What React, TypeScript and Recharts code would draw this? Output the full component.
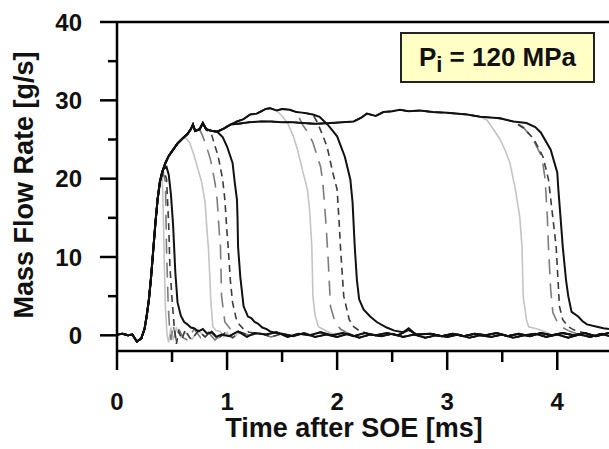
import React from 'react';
import { LineChart, Line, XAxis, YAxis, ReferenceLine } from 'recharts';

type Pt = [number, number];

// time [ms], mass flow rate [g/s]
const rise: Pt[] = [
  [0, 0.1], [0.05, 0.2], [0.1, 0.0], [0.14, 0.1], [0.18, -0.8], [0.22, -0.4],
  [0.25, 0.8], [0.27, 2.5], [0.29, 4.6], [0.31, 7.5], [0.33, 11], [0.35, 14.5],
  [0.37, 17.5], [0.39, 19.6],
];
const ramp: Pt[] = [
  [0.41, 20.8], [0.44, 22], [0.47, 22.9], [0.51, 23.7], [0.55, 24.5], [0.6, 25.2],
  [0.64, 25.7], [0.67, 26.3], [0.69, 26.9], [0.71, 26.1], [0.75, 26.3], [0.78, 27.1],
  [0.81, 26.3], [0.86, 26.1], [0.91, 26.0], [0.97, 26.4],
];
const plateauC: Pt[] = [
  [1.03, 26.9], [1.09, 27.3], [1.15, 27.6], [1.21, 28.2], [1.27, 28.3], [1.31, 28.6],
  [1.35, 28.9], [1.39, 29.0], [1.45, 28.7], [1.5, 28.9], [1.57, 28.8], [1.63, 28.5],
  [1.7, 28.4], [1.78, 28.2], [1.84, 27.9], [1.87, 27.5],
];
const plateauD: Pt[] = [
  [1.03, 26.9], [1.1, 27.0], [1.2, 27.2], [1.3, 27.3], [1.4, 27.3], [1.5, 27.2],
  [1.6, 27.2], [1.69, 27.1], [1.8, 27.0], [1.94, 27.1], [2.05, 27.2], [2.15, 27.3],
  [2.22, 27.8], [2.27, 28.3], [2.35, 28.0], [2.42, 28.5], [2.5, 28.6], [2.57, 28.8],
  [2.65, 28.6], [2.75, 28.7], [2.87, 28.5], [3.0, 28.4], [3.18, 28.2], [3.3, 27.9],
  [3.48, 27.7], [3.6, 27.3], [3.72, 27.1],
];
const floorA: Pt[] = [
  [0.62, 0.4], [0.68, -0.5], [0.74, 0.6], [0.8, -0.2], [0.86, 0.5], [0.92, -0.4],
  [0.98, 0.3], [1.05, -0.3], [1.12, 0.4], [1.2, 0.0], [1.3, 0.3], [1.4, -0.2],
  [1.5, 0.2], [1.6, -0.1], [1.7, 0.3], [1.8, -0.2], [1.9, 0.1], [2.0, -0.2],
  [2.1, 0.2], [2.2, -0.3], [2.3, 0.1], [2.4, -0.1], [2.5, 0.2], [2.6, -0.2],
  [2.7, 0.1], [2.8, -0.3], [2.9, 0.0], [3.0, -0.2], [3.1, 0.1], [3.2, -0.3],
  [3.3, 0.0], [3.4, -0.2], [3.5, 0.1], [3.6, -0.3], [3.7, 0.0], [3.8, 0.2],
  [3.9, -0.2], [4.0, 0.1], [4.1, -0.3], [4.2, 0.1], [4.3, -0.2], [4.4, 0.2], [4.47, -0.1],
];
const floorB: Pt[] = [
  [0.64, -0.6], [0.7, 0.8], [0.76, -0.3], [0.83, 0.4], [0.89, -0.6], [0.95, 0.2],
  [1.02, -0.1], [1.1, 0.5], [1.18, -0.2], [1.25, 0.3], [1.35, 0.1], [1.45, 0.4],
  [1.55, -0.2], [1.65, 0.2], [1.75, 0.0], [1.85, 0.4], [1.95, 0.0], [2.05, 0.3],
  [2.15, -0.1], [2.25, 0.3], [2.35, 0.0], [2.45, 0.3], [2.55, 0.0], [2.65, 0.7],
  [2.72, 0.1], [2.85, 0.2], [2.95, -0.1], [3.05, 0.2], [3.15, -0.1], [3.25, 0.2],
  [3.35, 0.0], [3.45, 0.3], [3.55, -0.1], [3.65, 0.2], [3.75, -0.1], [3.85, 0.3],
  [3.95, 0.0], [4.05, 0.3], [4.15, 0.0], [4.25, 0.3], [4.35, -0.1], [4.47, 0.3],
];

// closing flanks, one per shot
const fallA1: Pt[] = [[0.41, 20.6], [0.42, 16], [0.43, 9], [0.44, 3.5], [0.455, 0], [0.47, -0.9], [0.49, 1.0], [0.51, -0.6], [0.54, 0.9], [0.58, -0.2]];
const fallA2: Pt[] = [[0.42, 20.8], [0.44, 19.5], [0.45, 11], [0.465, 4], [0.475, 1.5], [0.49, -0.6], [0.51, 1.4], [0.54, -0.8], [0.57, 0.6], [0.6, -0.3]];
const fallA3: Pt[] = [[0.42, 21], [0.45, 20], [0.47, 14], [0.48, 9], [0.5, 4.6], [0.52, 1.1], [0.54, -1.1], [0.56, 0.5], [0.59, -0.5], [0.62, 0.7], [0.66, -0.3]];
const fallA4: Pt[] = [[0.42, 21.2], [0.45, 21.5], [0.47, 20.5], [0.49, 18], [0.51, 14], [0.53, 8], [0.55, 4.2], [0.58, 2.5], [0.61, 1.7], [0.64, 1.4], [0.67, 1.0], [0.7, 0.9], [0.74, 0.5], [0.78, 0.8], [0.82, 0.2], [0.86, 0.4], [0.9, -0.2], [0.95, 0.1]];

const fallB1: Pt[] = [[0.63, 25.1], [0.66, 24.6], [0.7, 23], [0.73, 21.5], [0.77, 19.5], [0.8, 17], [0.82, 13], [0.83, 11.3], [0.845, 7], [0.85, 5], [0.87, 1.1], [0.9, 0.6], [0.94, 0.5], [0.97, -0.2], [1.0, 0.4]];
const fallB2: Pt[] = [[0.78, 25.4], [0.82, 23.8], [0.85, 22.4], [0.89, 19.5], [0.91, 17.3], [0.93, 13], [0.94, 11.3], [0.95, 5], [0.98, 1.7], [1.03, 0.8], [1.07, 0.3]];
const fallB3: Pt[] = [[0.86, 25.6], [0.89, 24.2], [0.92, 22.8], [0.96, 19.9], [0.98, 17.3], [1.0, 13], [1.01, 11.3], [1.03, 7], [1.05, 4.2], [1.09, 1.7], [1.15, 0.8], [1.2, 0.4]];
const fallB4: Pt[] = [[0.96, 25.3], [1.0, 24.1], [1.05, 22], [1.07, 19.5], [1.09, 17.3], [1.095, 15], [1.1, 11.3], [1.12, 7.5], [1.15, 3.7], [1.19, 2.4], [1.22, 2.2], [1.25, 1.7], [1.28, 1.5], [1.32, 1.0], [1.36, 0.8], [1.39, 0.5], [1.45, 0.3]];

const fallC1: Pt[] = [[1.5, 28.0], [1.55, 27.1], [1.6, 25.5], [1.64, 23.7], [1.69, 20.8], [1.73, 18.6], [1.75, 16], [1.77, 11.3], [1.78, 5], [1.8, 2.5], [1.83, 1.1], [1.91, 0.5], [1.96, 0.2]];
const fallC2: Pt[] = [[1.69, 26.8], [1.74, 25.8], [1.78, 24.6], [1.85, 21.5], [1.87, 19.5], [1.9, 14], [1.92, 9.3], [1.94, 3.7], [1.98, 1.7], [2.03, 0.8], [2.08, 0.4]];
const fallC3: Pt[] = [[1.82, 27.2], [1.87, 25.5], [1.91, 24], [1.96, 20.8], [2.0, 18.6], [2.02, 14], [2.03, 11.3], [2.06, 5], [2.11, 2.0], [2.15, 1.1], [2.2, 0.6]];
const fallC4: Pt[] = [[1.92, 26.8], [2.0, 25.4], [2.07, 22.8], [2.12, 19.9], [2.14, 17], [2.16, 11.3], [2.18, 7], [2.2, 4.6], [2.24, 3.3], [2.3, 2.4], [2.36, 1.7], [2.45, 1.0], [2.52, 0.6], [2.6, 0.4], [2.65, 0.9], [2.7, 0.3]];

const fallD1: Pt[] = [[3.36, 27.5], [3.42, 26.3], [3.48, 25], [3.53, 23.5], [3.57, 22], [3.62, 18.6], [3.66, 15], [3.68, 11.3], [3.69, 5], [3.72, 2], [3.74, 1.1], [3.82, 0.8], [3.9, 0.4]];
const fallD2: Pt[] = [[3.69, 26.6], [3.78, 25], [3.86, 22.8], [3.89, 19.9], [3.91, 15], [3.92, 11.3], [3.94, 5.9], [3.96, 2.9], [4.0, 1.7], [4.05, 1.0], [4.1, 0.6]];
const fallD3: Pt[] = [[3.7, 26.4], [3.79, 25.0], [3.87, 22.8], [3.92, 19.9], [3.96, 15], [3.99, 11.3], [4.02, 3.7], [4.05, 2.0], [4.1, 1.1], [4.15, 0.7]];
const fallD4: Pt[] = [[3.8, 26.6], [3.85, 25.9], [3.94, 23.7], [4.0, 20.8], [4.01, 18.6], [4.03, 15], [4.05, 11.3], [4.08, 7], [4.1, 5], [4.13, 3.0], [4.19, 2.4], [4.23, 1.8], [4.27, 1.4], [4.36, 1.1], [4.42, 0.9], [4.47, 0.8]];

const xTicks = [0, 0.5, 1, 1.5, 2, 2.5, 3, 3.5, 4];
const yTicks = [0, 5, 10, 15, 20, 25, 30, 35, 40];

const headB = [...rise, ...ramp];
const headC = [...rise, ...ramp, ...plateauC];
const headD = [...rise, ...ramp, ...plateauD];

const build = (head: Pt[], cut: number, fall: Pt[], floor: Pt[]) => {
  const end = fall[fall.length - 1][0];
  return [...head.filter((p) => p[0] <= cut), ...fall, ...floor.filter((p) => p[0] > end)].map(
    ([t, m]) => ({ t, m })
  );
};

const styles = {
  light: { stroke: '#c4c4c4', strokeWidth: 1.6 },
  gray: { stroke: '#7c7c7c', strokeWidth: 1.6, strokeDasharray: '15 9' },
  dark: { stroke: '#3c3c3c', strokeWidth: 1.6, strokeDasharray: '7 5' },
  black: { stroke: '#111', strokeWidth: 2 },
};

const series = [
  { key: 'a1', s: styles.light, data: build(rise, 0.39, fallA1, floorA) },
  { key: 'b1', s: styles.light, data: build(headB, 0.6, fallB1, floorB) },
  { key: 'c1', s: styles.light, data: build(headC, 1.45, fallC1, floorA) },
  { key: 'd1', s: styles.light, data: build(headD, 3.3, fallD1, floorB) },
  { key: 'a2', s: styles.gray, data: build(rise, 0.39, fallA2, floorB) },
  { key: 'b2', s: styles.gray, data: build(headB, 0.75, fallB2, floorA) },
  { key: 'c2', s: styles.gray, data: build(headC, 1.63, fallC2, floorB) },
  { key: 'd2', s: styles.gray, data: build(headD, 3.6, fallD2, floorA) },
  { key: 'a3', s: styles.dark, data: build(rise, 0.39, fallA3, floorA) },
  { key: 'b3', s: styles.dark, data: build(headB, 0.81, fallB3, floorB) },
  { key: 'c3', s: styles.dark, data: build(headC, 1.78, fallC3, floorA) },
  { key: 'd3', s: styles.dark, data: build(headD, 3.6, fallD3, floorB) },
  { key: 'a4', s: styles.black, data: build(rise, 0.39, fallA4, floorB) },
  { key: 'b4', s: styles.black, data: build(headB, 0.91, fallB4, floorA) },
  { key: 'c4', s: styles.black, data: build(headC, 1.87, fallC4, floorB) },
  { key: 'd4', s: styles.black, data: build(headD, 3.72, fallD4, floorA) },
];

const font = '"Liberation Sans", Arial, sans-serif';

const XTick = (props: any) => {
  const { x, y, payload } = props;
  const major = Number.isInteger(payload.value);
  return (
    <g>
      <line x1={x} x2={x} y1={y} y2={y + (major ? 19 : 11)} stroke="#000" strokeWidth={2.5} />
      {major && (
        <text x={x} y={y + 50} textAnchor="middle" dominantBaseline="central"
          fontFamily={font} fontWeight="bold" fontSize={24} fill="#111">
          {payload.value}
        </text>
      )}
    </g>
  );
};

const YTick = (props: any) => {
  const { x, y, payload } = props;
  const major = payload.value % 10 === 0;
  return (
    <g>
      <line x1={x - (major ? 17 : 9)} x2={x} y1={y} y2={y} stroke="#000" strokeWidth={2.5} />
      {major && (
        <text x={x - 35} y={y} textAnchor="end" dominantBaseline="central"
          fontFamily={font} fontWeight="bold" fontSize={24} fill="#111">
          {payload.value}
        </text>
      )}
    </g>
  );
};

export default function App() {
  return (
    <div style={{ position: 'absolute', left: 0, top: 0, width: 609, height: 449, background: '#fff', overflow: 'hidden' }}>
      <LineChart width={609} height={449} margin={{ top: 22, right: 0, bottom: 0, left: 0 }}>
        <XAxis
          type="number"
          dataKey="t"
          domain={[0, 4.47]}
          allowDataOverflow
          ticks={xTicks}
          interval={0}
          height={98}
          tickSize={0}
          tickMargin={0}
          tickLine={false}
          axisLine={{ stroke: '#000', strokeWidth: 2.5 }}
          tick={(p: any) => <XTick {...p} />}
        />
        <YAxis
          type="number"
          domain={[-2, 40]}
          allowDataOverflow
          ticks={yTicks}
          interval={0}
          width={117}
          tickSize={0}
          tickMargin={0}
          tickLine={false}
          axisLine={{ stroke: '#000', strokeWidth: 2.5 }}
          tick={(p: any) => <YTick {...p} />}
        />
        <ReferenceLine y={40} stroke="#000" strokeWidth={2.5} />
        {series.map((c) => (
          <Line
            key={c.key}
            data={c.data}
            dataKey="m"
            type="linear"
            dot={false}
            activeDot={false}
            isAnimationActive={false}
            {...c.s}
          />
        ))}
      </LineChart>
      <div style={{ position: 'absolute', left: 204, top: 413, width: 300, textAlign: 'center', fontFamily: font, fontWeight: 'bold', fontSize: 27, lineHeight: '30px', color: '#111', whiteSpace: 'nowrap' }}>
        Time after SOE [ms]
      </div>
      <div style={{ position: 'absolute', left: 24, top: 185, width: 0, height: 0 }}>
        <div style={{ position: 'absolute', left: 0, top: 0, transform: 'translate(-50%, -50%) rotate(-90deg)', fontFamily: font, fontWeight: 'bold', fontSize: 27, lineHeight: '30px', color: '#111', whiteSpace: 'nowrap' }}>
          Mass Flow Rate [g/s]
        </div>
      </div>
      <div style={{ position: 'absolute', left: 400, top: 32, width: 195, height: 51, boxSizing: 'border-box', border: '2px solid #222', background: '#ffffc6', display: 'flex', alignItems: 'center', justifyContent: 'center', fontFamily: font, fontWeight: 'bold', fontSize: 26, color: '#111', whiteSpace: 'nowrap' }}>
        <span>P<span style={{ fontSize: 22, position: 'relative', top: 6 }}>i</span> = 120 MPa</span>
      </div>
    </div>
  );
}
